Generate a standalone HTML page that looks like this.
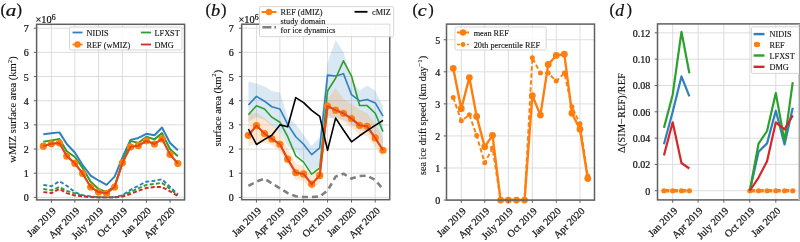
<!DOCTYPE html><html><head><meta charset="utf-8"><style>html,body{margin:0;padding:0;background:#fff;overflow:hidden;width:800px;height:242px}svg{display:block;opacity:0.999;will-change:transform} text{stroke:#111;stroke-width:0.22px}</style></head><body>
<svg width="800" height="242" viewBox="0 0 800 242" font-family='"Liberation Serif", serif' fill="#111">
<line x1="36.6" y1="197.4" x2="184.6" y2="197.4" stroke="#dddddd" stroke-width="1.0"/>
<line x1="36.6" y1="173.23" x2="184.6" y2="173.23" stroke="#dddddd" stroke-width="1.0"/>
<line x1="36.6" y1="149.06" x2="184.6" y2="149.06" stroke="#dddddd" stroke-width="1.0"/>
<line x1="36.6" y1="124.89" x2="184.6" y2="124.89" stroke="#dddddd" stroke-width="1.0"/>
<line x1="36.6" y1="100.72" x2="184.6" y2="100.72" stroke="#dddddd" stroke-width="1.0"/>
<line x1="36.6" y1="76.55" x2="184.6" y2="76.55" stroke="#dddddd" stroke-width="1.0"/>
<line x1="36.6" y1="52.38" x2="184.6" y2="52.38" stroke="#dddddd" stroke-width="1.0"/>
<line x1="36.6" y1="28.21" x2="184.6" y2="28.21" stroke="#dddddd" stroke-width="1.0"/>
<line x1="51.39" y1="24.3" x2="51.39" y2="199.9" stroke="#dddddd" stroke-width="1.0"/>
<line x1="74.82" y1="24.3" x2="74.82" y2="199.9" stroke="#dddddd" stroke-width="1.0"/>
<line x1="98.5" y1="24.3" x2="98.5" y2="199.9" stroke="#dddddd" stroke-width="1.0"/>
<line x1="122.44" y1="24.3" x2="122.44" y2="199.9" stroke="#dddddd" stroke-width="1.0"/>
<line x1="146.38" y1="24.3" x2="146.38" y2="199.9" stroke="#dddddd" stroke-width="1.0"/>
<polyline points="43.33,184.83 51.39,186.28 59.46,181.21 66.75,185.8 74.82,192.08 82.62,195.22 90.69,196.43 98.5,197.16 106.57,197.4 114.63,197.16 122.44,195.22 130.51,189.91 138.32,185.8 146.38,181.69 154.45,180.72 162,179.27 170.07,187.01 177.87,194.26" fill="none" stroke="#2f7fc1" stroke-width="1.9" stroke-linejoin="round" stroke-dasharray="4,2.2"/>
<polyline points="43.33,188.94 51.39,190.39 59.46,187.01 66.75,190.87 74.82,193.29 82.62,195.95 90.69,196.92 98.5,197.4 106.57,197.4 114.63,197.4 122.44,195.95 130.51,191.84 138.32,188.46 146.38,184.83 154.45,183.86 162,182.9 170.07,188.94 177.87,195.22" fill="none" stroke="#2ca02c" stroke-width="1.9" stroke-linejoin="round" stroke-dasharray="4,2.2"/>
<polyline points="43.33,192.08 51.39,193.05 59.46,188.94 66.75,193.05 74.82,195.47 82.62,196.43 90.69,197.16 98.5,197.4 106.57,197.4 114.63,197.4 122.44,196.67 130.51,194.02 138.32,190.87 146.38,187.97 154.45,187.01 162,187.01 170.07,191.36 177.87,195.95" fill="none" stroke="#d62728" stroke-width="1.9" stroke-linejoin="round" stroke-dasharray="4,2.2"/>
<polyline points="43.33,134.32 51.39,133.35 59.46,132.38 66.75,143.98 74.82,152.44 82.62,165.01 90.69,175.65 98.5,180.48 106.57,184.83 114.63,176.61 122.44,157.52 130.51,139.88 138.32,137.94 146.38,133.83 154.45,135.28 162,127.55 170.07,143.02 177.87,150.27" fill="none" stroke="#2f7fc1" stroke-width="2.0" stroke-linejoin="round"/>
<polyline points="43.33,141.81 51.39,140.36 59.46,138.91 66.75,151.24 74.82,157.04 82.62,167.91 90.69,181.69 98.5,188.94 106.57,192.08 114.63,185.8 122.44,162.84 130.51,140.84 138.32,143.02 146.38,136.73 154.45,139.39 162,133.11 170.07,149.3 177.87,156.31" fill="none" stroke="#2ca02c" stroke-width="2.0" stroke-linejoin="round"/>
<polyline points="43.33,146.16 51.39,143.74 59.46,143.02 66.75,156.07 74.82,163.32 82.62,173.47 90.69,187.01 98.5,192.08 106.57,193.29 114.63,187.01 122.44,162.84 130.51,146.88 138.32,145.68 146.38,140.84 154.45,143.98 162,138.91 170.07,154.38 177.87,163.56" fill="none" stroke="#ff7f0e" stroke-width="2.0" stroke-linejoin="round"/>
<circle cx="43.33" cy="146.16" r="3.6" fill="#ff7f0e"/>
<circle cx="51.39" cy="143.74" r="3.6" fill="#ff7f0e"/>
<circle cx="59.46" cy="143.02" r="3.6" fill="#ff7f0e"/>
<circle cx="66.75" cy="156.07" r="3.6" fill="#ff7f0e"/>
<circle cx="74.82" cy="163.32" r="3.6" fill="#ff7f0e"/>
<circle cx="82.62" cy="173.47" r="3.6" fill="#ff7f0e"/>
<circle cx="90.69" cy="187.01" r="3.6" fill="#ff7f0e"/>
<circle cx="98.5" cy="192.08" r="3.6" fill="#ff7f0e"/>
<circle cx="106.57" cy="193.29" r="3.6" fill="#ff7f0e"/>
<circle cx="114.63" cy="187.01" r="3.6" fill="#ff7f0e"/>
<circle cx="122.44" cy="162.84" r="3.6" fill="#ff7f0e"/>
<circle cx="130.51" cy="146.88" r="3.6" fill="#ff7f0e"/>
<circle cx="138.32" cy="145.68" r="3.6" fill="#ff7f0e"/>
<circle cx="146.38" cy="140.84" r="3.6" fill="#ff7f0e"/>
<circle cx="154.45" cy="143.98" r="3.6" fill="#ff7f0e"/>
<circle cx="162" cy="138.91" r="3.6" fill="#ff7f0e"/>
<circle cx="170.07" cy="154.38" r="3.6" fill="#ff7f0e"/>
<circle cx="177.87" cy="163.56" r="3.6" fill="#ff7f0e"/>
<polyline points="43.33,146.16 51.39,143.74 59.46,143.02 66.75,156.07 74.82,163.32 82.62,173.47 90.69,187.01 98.5,192.08 106.57,193.29 114.63,187.01 122.44,162.84 130.51,146.88 138.32,145.68 146.38,140.84 154.45,143.98 162,138.91 170.07,154.38 177.87,163.56" fill="none" stroke="#e4461c" stroke-width="2.0" stroke-linejoin="round"/>
<rect x="36.6" y="24.3" width="148" height="175.6" fill="none" stroke="#606060" stroke-width="1.5"/>
<line x1="33.8" y1="197.4" x2="36.6" y2="197.4" stroke="#606060" stroke-width="1"/>
<text x="28.8" y="201.4" text-anchor="end" font-size="10">0</text>
<line x1="33.8" y1="173.23" x2="36.6" y2="173.23" stroke="#606060" stroke-width="1"/>
<text x="28.8" y="177.23" text-anchor="end" font-size="10">1</text>
<line x1="33.8" y1="149.06" x2="36.6" y2="149.06" stroke="#606060" stroke-width="1"/>
<text x="28.8" y="153.06" text-anchor="end" font-size="10">2</text>
<line x1="33.8" y1="124.89" x2="36.6" y2="124.89" stroke="#606060" stroke-width="1"/>
<text x="28.8" y="128.89" text-anchor="end" font-size="10">3</text>
<line x1="33.8" y1="100.72" x2="36.6" y2="100.72" stroke="#606060" stroke-width="1"/>
<text x="28.8" y="104.72" text-anchor="end" font-size="10">4</text>
<line x1="33.8" y1="76.55" x2="36.6" y2="76.55" stroke="#606060" stroke-width="1"/>
<text x="28.8" y="80.55" text-anchor="end" font-size="10">5</text>
<line x1="33.8" y1="52.38" x2="36.6" y2="52.38" stroke="#606060" stroke-width="1"/>
<text x="28.8" y="56.38" text-anchor="end" font-size="10">6</text>
<line x1="33.8" y1="28.21" x2="36.6" y2="28.21" stroke="#606060" stroke-width="1"/>
<text x="28.8" y="32.21" text-anchor="end" font-size="10">7</text>
<line x1="51.39" y1="199.9" x2="51.39" y2="202.7" stroke="#606060" stroke-width="1"/>
<text transform="translate(56.69,211.5) rotate(-45)" text-anchor="end" font-size="10.2">Jan 2019</text>
<line x1="74.82" y1="199.9" x2="74.82" y2="202.7" stroke="#606060" stroke-width="1"/>
<text transform="translate(80.12,211.5) rotate(-45)" text-anchor="end" font-size="10.2">Apr 2019</text>
<line x1="98.5" y1="199.9" x2="98.5" y2="202.7" stroke="#606060" stroke-width="1"/>
<text transform="translate(103.8,211.5) rotate(-45)" text-anchor="end" font-size="10.2">July 2019</text>
<line x1="122.44" y1="199.9" x2="122.44" y2="202.7" stroke="#606060" stroke-width="1"/>
<text transform="translate(127.74,211.5) rotate(-45)" text-anchor="end" font-size="10.2">Oct 2019</text>
<line x1="146.38" y1="199.9" x2="146.38" y2="202.7" stroke="#606060" stroke-width="1"/>
<text transform="translate(151.68,211.5) rotate(-45)" text-anchor="end" font-size="10.2">Jan 2020</text>
<line x1="170.07" y1="199.9" x2="170.07" y2="202.7" stroke="#606060" stroke-width="1"/>
<text transform="translate(175.37,211.5) rotate(-45)" text-anchor="end" font-size="10.2">Apr 2020</text>
<line x1="241.65" y1="197.4" x2="389.75" y2="197.4" stroke="#dddddd" stroke-width="1.0"/>
<line x1="241.65" y1="173.23" x2="389.75" y2="173.23" stroke="#dddddd" stroke-width="1.0"/>
<line x1="241.65" y1="149.06" x2="389.75" y2="149.06" stroke="#dddddd" stroke-width="1.0"/>
<line x1="241.65" y1="124.89" x2="389.75" y2="124.89" stroke="#dddddd" stroke-width="1.0"/>
<line x1="241.65" y1="100.72" x2="389.75" y2="100.72" stroke="#dddddd" stroke-width="1.0"/>
<line x1="241.65" y1="76.55" x2="389.75" y2="76.55" stroke="#dddddd" stroke-width="1.0"/>
<line x1="241.65" y1="52.38" x2="389.75" y2="52.38" stroke="#dddddd" stroke-width="1.0"/>
<line x1="241.65" y1="28.21" x2="389.75" y2="28.21" stroke="#dddddd" stroke-width="1.0"/>
<line x1="256.45" y1="24.2" x2="256.45" y2="199.7" stroke="#dddddd" stroke-width="1.0"/>
<line x1="279.89" y1="24.2" x2="279.89" y2="199.7" stroke="#dddddd" stroke-width="1.0"/>
<line x1="303.59" y1="24.2" x2="303.59" y2="199.7" stroke="#dddddd" stroke-width="1.0"/>
<line x1="327.55" y1="24.2" x2="327.55" y2="199.7" stroke="#dddddd" stroke-width="1.0"/>
<line x1="351.51" y1="24.2" x2="351.51" y2="199.7" stroke="#dddddd" stroke-width="1.0"/>
<line x1="375.21" y1="24.2" x2="375.21" y2="199.7" stroke="#dddddd" stroke-width="1.0"/>
<polygon points="248.38,81.5 256.45,83.5 264.53,86.5 271.82,91 279.89,92.5 287.71,117 295.78,124.5 303.59,134.8 311.66,146.2 319.74,137 327.55,63 335.62,40 343.43,52 351.51,80.3 359.58,90.7 367.13,85.5 375.21,90.7 383.02,106.2 383.02,150 375.21,140 367.13,132 359.58,130 351.51,125 343.43,120 335.62,118 327.55,118 319.74,166 311.66,172 303.59,160 295.78,152 287.71,146 279.89,132 271.82,126 264.53,120 256.45,117 248.38,122" fill="#1f77b4" fill-opacity="0.17"/>
<polygon points="248.38,114 256.45,113 264.53,118 271.82,125 279.89,132 287.71,148 295.78,163 303.59,166 311.66,176 319.74,166 327.55,100 335.62,88 343.43,99 351.51,104 359.58,110 367.13,113 375.21,124 383.02,138 383.02,158 375.21,147 367.13,136 359.58,135 351.51,128 343.43,122 335.62,120 327.55,115 319.74,183 311.66,190 303.59,181 295.78,180 287.71,164 279.89,151 271.82,145 264.53,143 256.45,144 248.38,146" fill="#ff7f0e" fill-opacity="0.19"/>
<polyline points="248.38,185.9 256.45,181.5 264.53,178.6 271.82,183.4 279.89,188.3 287.71,193.1 295.78,196.3 303.59,197 311.66,197 319.74,196.5 327.55,190.5 335.62,176.6 343.43,173.7 351.51,178.6 359.58,176 367.13,175.7 375.21,180 383.02,189.2" fill="none" stroke="#808080" stroke-width="2.6" stroke-linejoin="round" stroke-dasharray="6,4"/>
<polyline points="248.38,105.07 256.45,96.37 264.53,101.2 271.82,106.76 279.89,108.94 287.71,124.41 295.78,136.73 303.59,144.23 311.66,154.62 319.74,147.85 327.55,75.1 335.62,76.07 343.43,73.65 351.51,94.68 359.58,100.96 367.13,99.51 375.21,102.9 383.02,116.19" fill="none" stroke="#2f7fc1" stroke-width="1.6" stroke-linejoin="round"/>
<polyline points="248.38,114.74 256.45,105.8 264.53,108.94 271.82,117.16 279.89,122.23 287.71,136.73 295.78,155.83 303.59,162.11 311.66,174.2 319.74,167.91 327.55,91.05 335.62,78.24 343.43,60.84 351.51,76.07 359.58,105.55 367.13,105.55 375.21,113.29 383.02,131.66" fill="none" stroke="#2ca02c" stroke-width="1.6" stroke-linejoin="round"/>
<polyline points="248.38,135.28 256.45,125.62 264.53,133.59 271.82,138.91 279.89,144.23 287.71,159.21 295.78,172.75 303.59,173.96 311.66,184.11 319.74,175.41 327.55,106.04 335.62,110.15 343.43,113.29 351.51,118.61 359.58,125.37 367.13,126.34 375.21,137.94 383.02,150.27" fill="none" stroke="#ff7f0e" stroke-width="2.0" stroke-linejoin="round"/>
<circle cx="248.38" cy="135.28" r="3.6" fill="#ff7f0e"/>
<circle cx="256.45" cy="125.62" r="3.6" fill="#ff7f0e"/>
<circle cx="264.53" cy="133.59" r="3.6" fill="#ff7f0e"/>
<circle cx="271.82" cy="138.91" r="3.6" fill="#ff7f0e"/>
<circle cx="279.89" cy="144.23" r="3.6" fill="#ff7f0e"/>
<circle cx="287.71" cy="159.21" r="3.6" fill="#ff7f0e"/>
<circle cx="295.78" cy="172.75" r="3.6" fill="#ff7f0e"/>
<circle cx="303.59" cy="173.96" r="3.6" fill="#ff7f0e"/>
<circle cx="311.66" cy="184.11" r="3.6" fill="#ff7f0e"/>
<circle cx="319.74" cy="175.41" r="3.6" fill="#ff7f0e"/>
<circle cx="327.55" cy="106.04" r="3.6" fill="#ff7f0e"/>
<circle cx="335.62" cy="110.15" r="3.6" fill="#ff7f0e"/>
<circle cx="343.43" cy="113.29" r="3.6" fill="#ff7f0e"/>
<circle cx="351.51" cy="118.61" r="3.6" fill="#ff7f0e"/>
<circle cx="359.58" cy="125.37" r="3.6" fill="#ff7f0e"/>
<circle cx="367.13" cy="126.34" r="3.6" fill="#ff7f0e"/>
<circle cx="375.21" cy="137.94" r="3.6" fill="#ff7f0e"/>
<circle cx="383.02" cy="150.27" r="3.6" fill="#ff7f0e"/>
<polyline points="248.38,135.28 256.45,125.62 264.53,133.59 271.82,138.91 279.89,144.23 287.71,159.21 295.78,172.75 303.59,173.96 311.66,184.11 319.74,175.41 327.55,106.04 335.62,110.15 343.43,113.29 351.51,118.61 359.58,125.37 367.13,126.34 375.21,137.94 383.02,150.27" fill="none" stroke="#e4461c" stroke-width="2.0" stroke-linejoin="round"/>
<polyline points="248.38,129 256.45,144.47 264.53,139.39 271.82,135.28 279.89,124.89 287.71,126.82 295.78,97.58 303.59,102.65 311.66,110.39 319.74,116.43 327.55,150.27 335.62,118.12 343.43,129.97 351.51,141.81 359.58,135.77 367.13,130.69 375.21,125.37 383.02,120.3" fill="none" stroke="#000" stroke-width="1.6" stroke-linejoin="round"/>
<rect x="241.65" y="24.2" width="148.1" height="175.5" fill="none" stroke="#606060" stroke-width="1.5"/>
<line x1="238.85" y1="197.4" x2="241.65" y2="197.4" stroke="#606060" stroke-width="1"/>
<text x="233.65" y="201.4" text-anchor="end" font-size="10">0</text>
<line x1="238.85" y1="173.23" x2="241.65" y2="173.23" stroke="#606060" stroke-width="1"/>
<text x="233.65" y="177.23" text-anchor="end" font-size="10">1</text>
<line x1="238.85" y1="149.06" x2="241.65" y2="149.06" stroke="#606060" stroke-width="1"/>
<text x="233.65" y="153.06" text-anchor="end" font-size="10">2</text>
<line x1="238.85" y1="124.89" x2="241.65" y2="124.89" stroke="#606060" stroke-width="1"/>
<text x="233.65" y="128.89" text-anchor="end" font-size="10">3</text>
<line x1="238.85" y1="100.72" x2="241.65" y2="100.72" stroke="#606060" stroke-width="1"/>
<text x="233.65" y="104.72" text-anchor="end" font-size="10">4</text>
<line x1="238.85" y1="76.55" x2="241.65" y2="76.55" stroke="#606060" stroke-width="1"/>
<text x="233.65" y="80.55" text-anchor="end" font-size="10">5</text>
<line x1="238.85" y1="52.38" x2="241.65" y2="52.38" stroke="#606060" stroke-width="1"/>
<text x="233.65" y="56.38" text-anchor="end" font-size="10">6</text>
<line x1="238.85" y1="28.21" x2="241.65" y2="28.21" stroke="#606060" stroke-width="1"/>
<text x="233.65" y="32.21" text-anchor="end" font-size="10">7</text>
<line x1="256.45" y1="199.7" x2="256.45" y2="202.5" stroke="#606060" stroke-width="1"/>
<text transform="translate(261.75,211.3) rotate(-45)" text-anchor="end" font-size="10.2">Jan 2019</text>
<line x1="279.89" y1="199.7" x2="279.89" y2="202.5" stroke="#606060" stroke-width="1"/>
<text transform="translate(285.19,211.3) rotate(-45)" text-anchor="end" font-size="10.2">Apr 2019</text>
<line x1="303.59" y1="199.7" x2="303.59" y2="202.5" stroke="#606060" stroke-width="1"/>
<text transform="translate(308.89,211.3) rotate(-45)" text-anchor="end" font-size="10.2">July 2019</text>
<line x1="327.55" y1="199.7" x2="327.55" y2="202.5" stroke="#606060" stroke-width="1"/>
<text transform="translate(332.85,211.3) rotate(-45)" text-anchor="end" font-size="10.2">Oct 2019</text>
<line x1="351.51" y1="199.7" x2="351.51" y2="202.5" stroke="#606060" stroke-width="1"/>
<text transform="translate(356.81,211.3) rotate(-45)" text-anchor="end" font-size="10.2">Jan 2020</text>
<line x1="375.21" y1="199.7" x2="375.21" y2="202.5" stroke="#606060" stroke-width="1"/>
<text transform="translate(380.51,211.3) rotate(-45)" text-anchor="end" font-size="10.2">Apr 2020</text>
<line x1="446.5" y1="200.06" x2="594.5" y2="200.06" stroke="#dddddd" stroke-width="1.0"/>
<line x1="446.5" y1="168" x2="594.5" y2="168" stroke="#dddddd" stroke-width="1.0"/>
<line x1="446.5" y1="135.94" x2="594.5" y2="135.94" stroke="#dddddd" stroke-width="1.0"/>
<line x1="446.5" y1="103.88" x2="594.5" y2="103.88" stroke="#dddddd" stroke-width="1.0"/>
<line x1="446.5" y1="71.82" x2="594.5" y2="71.82" stroke="#dddddd" stroke-width="1.0"/>
<line x1="446.5" y1="39.76" x2="594.5" y2="39.76" stroke="#dddddd" stroke-width="1.0"/>
<line x1="461.29" y1="24.1" x2="461.29" y2="200.1" stroke="#dddddd" stroke-width="1.0"/>
<line x1="484.72" y1="24.1" x2="484.72" y2="200.1" stroke="#dddddd" stroke-width="1.0"/>
<line x1="508.4" y1="24.1" x2="508.4" y2="200.1" stroke="#dddddd" stroke-width="1.0"/>
<line x1="532.34" y1="24.1" x2="532.34" y2="200.1" stroke="#dddddd" stroke-width="1.0"/>
<line x1="556.28" y1="24.1" x2="556.28" y2="200.1" stroke="#dddddd" stroke-width="1.0"/>
<line x1="579.97" y1="24.1" x2="579.97" y2="200.1" stroke="#dddddd" stroke-width="1.0"/>
<polyline points="453.23,97.47 461.29,120.87 469.36,114.78 476.65,135.62 484.72,162.87 492.52,148.12 500.59,200.06 508.4,200.06 516.47,200.06 524.53,200.06 532.34,57.71 540.41,73.1 548.22,73.1 556.28,81.12 564.35,73.1 571.9,106.77 579.97,123.76 587.77,176.01" fill="none" stroke="#ff7f0e" stroke-width="1.9" stroke-linejoin="round" stroke-dasharray="4.5,2.5"/>
<circle cx="453.23" cy="97.47" r="2.5" fill="#ff7f0e"/>
<circle cx="461.29" cy="120.87" r="2.5" fill="#ff7f0e"/>
<circle cx="469.36" cy="114.78" r="2.5" fill="#ff7f0e"/>
<circle cx="476.65" cy="135.62" r="2.5" fill="#ff7f0e"/>
<circle cx="484.72" cy="162.87" r="2.5" fill="#ff7f0e"/>
<circle cx="492.52" cy="148.12" r="2.5" fill="#ff7f0e"/>
<circle cx="500.59" cy="200.06" r="2.5" fill="#ff7f0e"/>
<circle cx="508.4" cy="200.06" r="2.5" fill="#ff7f0e"/>
<circle cx="516.47" cy="200.06" r="2.5" fill="#ff7f0e"/>
<circle cx="524.53" cy="200.06" r="2.5" fill="#ff7f0e"/>
<circle cx="532.34" cy="57.71" r="2.5" fill="#ff7f0e"/>
<circle cx="540.41" cy="73.1" r="2.5" fill="#ff7f0e"/>
<circle cx="548.22" cy="73.1" r="2.5" fill="#ff7f0e"/>
<circle cx="556.28" cy="81.12" r="2.5" fill="#ff7f0e"/>
<circle cx="564.35" cy="73.1" r="2.5" fill="#ff7f0e"/>
<circle cx="571.9" cy="106.77" r="2.5" fill="#ff7f0e"/>
<circle cx="579.97" cy="123.76" r="2.5" fill="#ff7f0e"/>
<circle cx="587.77" cy="176.01" r="2.5" fill="#ff7f0e"/>
<polyline points="453.23,68.29 461.29,108.69 469.36,77.59 476.65,116.38 484.72,146.84 492.52,135.3 500.59,200.06 508.4,200.06 516.47,200.06 524.53,200.06 532.34,95.54 540.41,115.1 548.22,64.45 556.28,55.47 564.35,54.19 571.9,113.18 579.97,129.21 587.77,178.58" fill="none" stroke="#ff7f0e" stroke-width="2.4" stroke-linejoin="round"/>
<circle cx="453.23" cy="68.29" r="3.4" fill="#ff7f0e"/>
<circle cx="461.29" cy="108.69" r="3.4" fill="#ff7f0e"/>
<circle cx="469.36" cy="77.59" r="3.4" fill="#ff7f0e"/>
<circle cx="476.65" cy="116.38" r="3.4" fill="#ff7f0e"/>
<circle cx="484.72" cy="146.84" r="3.4" fill="#ff7f0e"/>
<circle cx="492.52" cy="135.3" r="3.4" fill="#ff7f0e"/>
<circle cx="500.59" cy="200.06" r="3.4" fill="#ff7f0e"/>
<circle cx="508.4" cy="200.06" r="3.4" fill="#ff7f0e"/>
<circle cx="516.47" cy="200.06" r="3.4" fill="#ff7f0e"/>
<circle cx="524.53" cy="200.06" r="3.4" fill="#ff7f0e"/>
<circle cx="532.34" cy="95.54" r="3.4" fill="#ff7f0e"/>
<circle cx="540.41" cy="115.1" r="3.4" fill="#ff7f0e"/>
<circle cx="548.22" cy="64.45" r="3.4" fill="#ff7f0e"/>
<circle cx="556.28" cy="55.47" r="3.4" fill="#ff7f0e"/>
<circle cx="564.35" cy="54.19" r="3.4" fill="#ff7f0e"/>
<circle cx="571.9" cy="113.18" r="3.4" fill="#ff7f0e"/>
<circle cx="579.97" cy="129.21" r="3.4" fill="#ff7f0e"/>
<circle cx="587.77" cy="178.58" r="3.4" fill="#ff7f0e"/>
<rect x="446.5" y="24.1" width="148" height="176" fill="none" stroke="#606060" stroke-width="1.5"/>
<line x1="443.7" y1="200.06" x2="446.5" y2="200.06" stroke="#606060" stroke-width="1"/>
<text x="440.3" y="204.06" text-anchor="end" font-size="10">0</text>
<line x1="443.7" y1="168" x2="446.5" y2="168" stroke="#606060" stroke-width="1"/>
<text x="440.3" y="172" text-anchor="end" font-size="10">1</text>
<line x1="443.7" y1="135.94" x2="446.5" y2="135.94" stroke="#606060" stroke-width="1"/>
<text x="440.3" y="139.94" text-anchor="end" font-size="10">2</text>
<line x1="443.7" y1="103.88" x2="446.5" y2="103.88" stroke="#606060" stroke-width="1"/>
<text x="440.3" y="107.88" text-anchor="end" font-size="10">3</text>
<line x1="443.7" y1="71.82" x2="446.5" y2="71.82" stroke="#606060" stroke-width="1"/>
<text x="440.3" y="75.82" text-anchor="end" font-size="10">4</text>
<line x1="443.7" y1="39.76" x2="446.5" y2="39.76" stroke="#606060" stroke-width="1"/>
<text x="440.3" y="43.76" text-anchor="end" font-size="10">5</text>
<line x1="461.29" y1="200.1" x2="461.29" y2="202.9" stroke="#606060" stroke-width="1"/>
<text transform="translate(466.59,211.7) rotate(-45)" text-anchor="end" font-size="10.2">Jan 2019</text>
<line x1="484.72" y1="200.1" x2="484.72" y2="202.9" stroke="#606060" stroke-width="1"/>
<text transform="translate(490.02,211.7) rotate(-45)" text-anchor="end" font-size="10.2">Apr 2019</text>
<line x1="508.4" y1="200.1" x2="508.4" y2="202.9" stroke="#606060" stroke-width="1"/>
<text transform="translate(513.7,211.7) rotate(-45)" text-anchor="end" font-size="10.2">July 2019</text>
<line x1="532.34" y1="200.1" x2="532.34" y2="202.9" stroke="#606060" stroke-width="1"/>
<text transform="translate(537.64,211.7) rotate(-45)" text-anchor="end" font-size="10.2">Oct 2019</text>
<line x1="556.28" y1="200.1" x2="556.28" y2="202.9" stroke="#606060" stroke-width="1"/>
<text transform="translate(561.58,211.7) rotate(-45)" text-anchor="end" font-size="10.2">Jan 2020</text>
<line x1="579.97" y1="200.1" x2="579.97" y2="202.9" stroke="#606060" stroke-width="1"/>
<text transform="translate(585.27,211.7) rotate(-45)" text-anchor="end" font-size="10.2">Apr 2020</text>
<line x1="657.5" y1="190.75" x2="799.2" y2="190.75" stroke="#dddddd" stroke-width="1.0"/>
<line x1="657.5" y1="164.43" x2="799.2" y2="164.43" stroke="#dddddd" stroke-width="1.0"/>
<line x1="657.5" y1="138.11" x2="799.2" y2="138.11" stroke="#dddddd" stroke-width="1.0"/>
<line x1="657.5" y1="111.79" x2="799.2" y2="111.79" stroke="#dddddd" stroke-width="1.0"/>
<line x1="657.5" y1="85.47" x2="799.2" y2="85.47" stroke="#dddddd" stroke-width="1.0"/>
<line x1="657.5" y1="59.15" x2="799.2" y2="59.15" stroke="#dddddd" stroke-width="1.0"/>
<line x1="657.5" y1="32.83" x2="799.2" y2="32.83" stroke="#dddddd" stroke-width="1.0"/>
<line x1="672.7" y1="23.9" x2="672.7" y2="199.9" stroke="#dddddd" stroke-width="1.0"/>
<line x1="698.12" y1="23.9" x2="698.12" y2="199.9" stroke="#dddddd" stroke-width="1.0"/>
<line x1="723.83" y1="23.9" x2="723.83" y2="199.9" stroke="#dddddd" stroke-width="1.0"/>
<line x1="749.82" y1="23.9" x2="749.82" y2="199.9" stroke="#dddddd" stroke-width="1.0"/>
<line x1="775.81" y1="23.9" x2="775.81" y2="199.9" stroke="#dddddd" stroke-width="1.0"/>
<polyline points="663.94,190.75 672.7,190.75 681.46,190.75 689.37,190.75" fill="none" stroke="#ff7f0e" stroke-width="3.6" stroke-linejoin="round" stroke-dasharray="5.5,3"/>
<circle cx="663.94" cy="190.75" r="2.6" fill="#ff7f0e"/>
<circle cx="672.7" cy="190.75" r="2.6" fill="#ff7f0e"/>
<circle cx="681.46" cy="190.75" r="2.6" fill="#ff7f0e"/>
<circle cx="689.37" cy="190.75" r="2.6" fill="#ff7f0e"/>
<polyline points="749.82,190.75 758.58,190.75 767.05,190.75 775.81,190.75 784.57,190.75 792.76,190.75" fill="none" stroke="#ff7f0e" stroke-width="3.6" stroke-linejoin="round" stroke-dasharray="5.5,3"/>
<circle cx="749.82" cy="190.75" r="2.6" fill="#ff7f0e"/>
<circle cx="758.58" cy="190.75" r="2.6" fill="#ff7f0e"/>
<circle cx="767.05" cy="190.75" r="2.6" fill="#ff7f0e"/>
<circle cx="775.81" cy="190.75" r="2.6" fill="#ff7f0e"/>
<circle cx="784.57" cy="190.75" r="2.6" fill="#ff7f0e"/>
<circle cx="792.76" cy="190.75" r="2.6" fill="#ff7f0e"/>
<polyline points="663.94,144.3 672.7,111.79 681.46,76.39 689.37,96.39" fill="none" stroke="#2f7fc1" stroke-width="2.2" stroke-linejoin="round"/>
<polyline points="749.82,190.75 758.58,151.8 767.05,143.37 775.81,110.74 784.57,144.43 792.76,107.71" fill="none" stroke="#2f7fc1" stroke-width="2.2" stroke-linejoin="round"/>
<polyline points="663.94,127.85 672.7,94.68 681.46,31.78 689.37,73.23" fill="none" stroke="#2ca02c" stroke-width="2.2" stroke-linejoin="round"/>
<polyline points="749.82,190.75 758.58,143.51 767.05,131 775.81,93.1 784.57,141.4 792.76,82.18" fill="none" stroke="#2ca02c" stroke-width="2.2" stroke-linejoin="round"/>
<polyline points="663.94,155.35 672.7,122.32 681.46,162.98 689.37,168.51" fill="none" stroke="#d62728" stroke-width="2.2" stroke-linejoin="round"/>
<polyline points="749.82,190.75 758.58,177.59 767.05,161.14 775.81,122.32 784.57,129.42 792.76,115.34" fill="none" stroke="#d62728" stroke-width="2.2" stroke-linejoin="round"/>
<rect x="657.5" y="23.9" width="141.7" height="176" fill="none" stroke="#606060" stroke-width="1.5"/>
<line x1="654.7" y1="190.75" x2="657.5" y2="190.75" stroke="#606060" stroke-width="1"/>
<text x="650.3" y="194.75" text-anchor="end" font-size="10">0</text>
<line x1="654.7" y1="164.43" x2="657.5" y2="164.43" stroke="#606060" stroke-width="1"/>
<text x="650.3" y="168.43" text-anchor="end" font-size="10">0.02</text>
<line x1="654.7" y1="138.11" x2="657.5" y2="138.11" stroke="#606060" stroke-width="1"/>
<text x="650.3" y="142.11" text-anchor="end" font-size="10">0.04</text>
<line x1="654.7" y1="111.79" x2="657.5" y2="111.79" stroke="#606060" stroke-width="1"/>
<text x="650.3" y="115.79" text-anchor="end" font-size="10">0.06</text>
<line x1="654.7" y1="85.47" x2="657.5" y2="85.47" stroke="#606060" stroke-width="1"/>
<text x="650.3" y="89.47" text-anchor="end" font-size="10">0.08</text>
<line x1="654.7" y1="59.15" x2="657.5" y2="59.15" stroke="#606060" stroke-width="1"/>
<text x="650.3" y="63.15" text-anchor="end" font-size="10">0.10</text>
<line x1="654.7" y1="32.83" x2="657.5" y2="32.83" stroke="#606060" stroke-width="1"/>
<text x="650.3" y="36.83" text-anchor="end" font-size="10">0.12</text>
<line x1="672.7" y1="199.9" x2="672.7" y2="202.7" stroke="#606060" stroke-width="1"/>
<text transform="translate(678,211.5) rotate(-45)" text-anchor="end" font-size="10.2">Jan 2019</text>
<line x1="698.12" y1="199.9" x2="698.12" y2="202.7" stroke="#606060" stroke-width="1"/>
<text transform="translate(703.42,211.5) rotate(-45)" text-anchor="end" font-size="10.2">Apr 2019</text>
<line x1="723.83" y1="199.9" x2="723.83" y2="202.7" stroke="#606060" stroke-width="1"/>
<text transform="translate(729.13,211.5) rotate(-45)" text-anchor="end" font-size="10.2">July 2019</text>
<line x1="749.82" y1="199.9" x2="749.82" y2="202.7" stroke="#606060" stroke-width="1"/>
<text transform="translate(755.12,211.5) rotate(-45)" text-anchor="end" font-size="10.2">Oct 2019</text>
<line x1="775.81" y1="199.9" x2="775.81" y2="202.7" stroke="#606060" stroke-width="1"/>
<text transform="translate(781.11,211.5) rotate(-45)" text-anchor="end" font-size="10.2">Jan 2020</text>
<rect x="69.5" y="27" width="112.5" height="23" rx="1.5" fill="#fff" fill-opacity="0.85" stroke="#cccccc" stroke-width="0.8"/>
<line x1="72.5" y1="32.5" x2="82.5" y2="32.5" stroke="#2f7fc1" stroke-width="1.8"/>
<text x="86.5" y="35.5" font-size="8.25" style="stroke-width:0.12px">NIDIS</text>
<line x1="72.5" y1="44.5" x2="82.5" y2="44.5" stroke="#ff7f0e" stroke-width="1.8"/>
<circle cx="77.5" cy="44.5" r="3.2" fill="#ff7f0e"/>
<text x="86.5" y="47.5" font-size="8.25" style="stroke-width:0.12px">REF (wMIZ)</text>
<line x1="141" y1="32.5" x2="151" y2="32.5" stroke="#2ca02c" stroke-width="1.8"/>
<text x="154.5" y="35.5" font-size="8.25" style="stroke-width:0.12px">LFXST</text>
<line x1="141" y1="44.5" x2="151" y2="44.5" stroke="#d62728" stroke-width="1.8"/>
<text x="154.5" y="47.5" font-size="8.25" style="stroke-width:0.12px">DMG</text>
<rect x="259.5" y="6.6" width="134.2" height="30.1" rx="1.5" fill="#fff" fill-opacity="0.85" stroke="#cccccc" stroke-width="0.8"/>
<line x1="261.5" y1="12" x2="276.5" y2="12" stroke="#ff7f0e" stroke-width="2"/>
<circle cx="269.0" cy="12" r="3.2" fill="#ff7f0e"/>
<text x="280.6" y="14.8" font-size="8.25" style="stroke-width:0.12px">REF (dMIZ)</text>
<line x1="262.4" y1="27.3" x2="276" y2="27.3" stroke="#808080" stroke-width="2.4" stroke-dasharray="9,3"/>
<text x="280.6" y="24.3" font-size="8.25" style="stroke-width:0.12px">study domain</text>
<text x="280.6" y="33.3" font-size="8.25" style="stroke-width:0.12px">for ice dynamics</text>
<line x1="354.5" y1="11.8" x2="367.5" y2="11.8" stroke="#000" stroke-width="1.8"/>
<text x="372" y="14.8" font-size="8.25" style="stroke-width:0.12px">cMIZ</text>
<rect x="455" y="27" width="91.2" height="23" rx="1.5" fill="#fff" fill-opacity="0.85" stroke="#cccccc" stroke-width="0.8"/>
<line x1="457" y1="32.5" x2="469" y2="32.5" stroke="#ff7f0e" stroke-width="2"/>
<circle cx="463.0" cy="32.5" r="3.2" fill="#ff7f0e"/>
<text x="473.7" y="35.5" font-size="8.25" style="stroke-width:0.12px">mean REF</text>
<line x1="457" y1="44.5" x2="469" y2="44.5" stroke="#ff7f0e" stroke-width="1.6" stroke-dasharray="3,2"/>
<circle cx="463.0" cy="44.5" r="2.4" fill="#ff7f0e"/>
<text x="473.7" y="47.5" font-size="8.25" style="stroke-width:0.12px">20th percentile REF</text>
<rect x="751.4" y="26.8" width="50" height="46.6" rx="1.5" fill="#fff" fill-opacity="0.85" stroke="#cccccc" stroke-width="0.8"/>
<line x1="753.6" y1="34.1" x2="764.5" y2="34.1" stroke="#2f7fc1" stroke-width="2.4"/>
<text x="769.5" y="37.1" font-size="8.25" style="stroke-width:0.12px">NIDIS</text>
<line x1="754" y1="44.5" x2="760" y2="44.5" stroke="#ff7f0e" stroke-width="3.6"/>
<circle cx="757.0" cy="44.5" r="2.8" fill="#ff7f0e"/>
<text x="769.5" y="47.5" font-size="8.25" style="stroke-width:0.12px">REF</text>
<line x1="753.6" y1="55.5" x2="764.5" y2="55.5" stroke="#2ca02c" stroke-width="2.4"/>
<text x="769.5" y="58.5" font-size="8.25" style="stroke-width:0.12px">LFXST</text>
<line x1="753.6" y1="66.8" x2="764.5" y2="66.8" stroke="#d62728" stroke-width="2.4"/>
<text x="769.5" y="69.8" font-size="8.25" style="stroke-width:0.12px">DMG</text>
<line x1="799.3" y1="23.9" x2="799.3" y2="199.9" stroke="#fff" stroke-width="1.6"/>
<line x1="799.6" y1="23.9" x2="799.6" y2="199.9" stroke="#8c8c8c" stroke-width="0.9"/>
<text transform="translate(16,109.5) rotate(-90)" text-anchor="middle" font-size="10.5" style="stroke-width:0.1px">wMIZ surface area (km<tspan dy="-4.2" font-size="6.8">2</tspan><tspan dy="4.2">)</tspan></text>
<text transform="translate(220.5,108.2) rotate(-90)" text-anchor="middle" font-size="10.5" style="stroke-width:0.1px">surface area (km<tspan dy="-4.2" font-size="6.8">2</tspan><tspan dy="4.2">)</tspan></text>
<text transform="translate(426.3,115.5) rotate(-90)" text-anchor="middle" font-size="10.1" style="stroke-width:0.1px">sea ice drift speed (km day<tspan dy="-4.2" font-size="6.8">&#8722;1</tspan><tspan dy="4.2">)</tspan></text>
<text transform="translate(624.5,113) rotate(-90)" text-anchor="middle" font-size="10.5" style="stroke-width:0.1px">&#916;(SIM&#8722;REF)/REF</text>
<text x="0.5" y="15.2" font-size="16.5">(</text>
<text transform="translate(5.7,16.4) scale(1.32,1)" font-size="16" font-style="italic">a</text>
<text x="16.5" y="15.2" font-size="16.5">)</text>
<text x="205.5" y="15.2" font-size="16.5">(</text>
<text transform="translate(210.9,16.4) scale(1.15,1)" font-size="16" font-style="italic">b</text>
<text x="220.9" y="15.2" font-size="16.5">)</text>
<text x="412.6" y="15.2" font-size="16.5">(</text>
<text transform="translate(417.8,16.4) scale(1.25,1)" font-size="16" font-style="italic">c</text>
<text x="428.2" y="15.2" font-size="16.5">)</text>
<text x="609.6" y="15.2" font-size="16.5">(</text>
<text transform="translate(615.3,16.4) scale(1.1,1)" font-size="16" font-style="italic">d</text>
<text x="626.4" y="15.2" font-size="16.5">)</text>
<text x="35.5" y="22.9" font-size="10.4">&#215;10<tspan dy="-3.4" font-size="7.8">6</tspan></text>
<text x="238.5" y="22.9" font-size="10.4">&#215;10<tspan dy="-3.4" font-size="7.8">6</tspan></text>
</svg></body></html>
